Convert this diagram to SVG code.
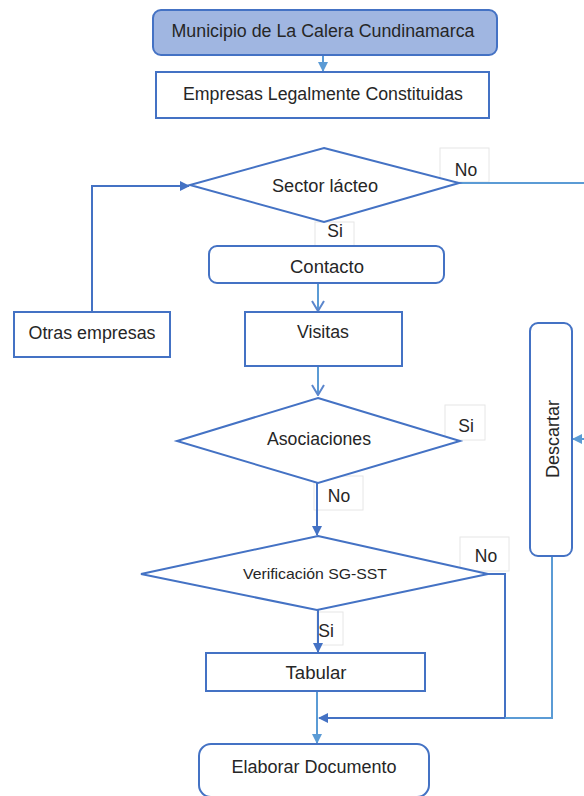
<svg xmlns="http://www.w3.org/2000/svg" width="584" height="796" viewBox="0 0 584 796">
<style>
.shape{fill:#fff;stroke:#4472c4;stroke-width:2}
.lbl{fill:#fff;stroke:#e6e6e6;stroke-width:1}
.t{font-family:"Liberation Sans",Arial,sans-serif;font-size:17.5px;fill:#262626;text-anchor:middle}
.c{fill:none;stroke:#4472c4;stroke-width:2}
.cl{fill:none;stroke:#5b9bd5;stroke-width:2}
</style>
<defs>
<marker id="af" markerWidth="10" markerHeight="10" refX="9" refY="5" orient="auto" markerUnits="userSpaceOnUse"><path d="M0,0 L10,5 L0,10 z" fill="#4472c4"/></marker>
<marker id="afl" markerWidth="10" markerHeight="10" refX="9" refY="5" orient="auto" markerUnits="userSpaceOnUse"><path d="M0,0 L10,5 L0,10 z" fill="#5b9bd5"/></marker>
<marker id="ao" markerWidth="12" markerHeight="14" refX="11" refY="7" orient="auto" markerUnits="userSpaceOnUse"><path d="M1,1 L11,7 L1,13" fill="none" stroke="#5b86cc" stroke-width="2"/></marker>
</defs>

<g id="labels">
<rect class="lbl" x="440" y="148" width="49" height="34"/>
<rect class="lbl" x="315" y="222" width="39" height="24"/>
<rect class="lbl" x="445" y="405" width="40" height="35"/>
<rect class="lbl" x="314" y="476" width="49" height="34"/>
<rect class="lbl" x="460" y="537" width="49" height="34"/>
<rect class="lbl" x="317" y="612" width="26" height="33"/>
</g>

<g id="connectors">
<path class="cl" d="M323,55 V71" marker-end="url(#afl)"/>
<path class="c" d="M92,313 V186 H189" marker-end="url(#af)"/>
<path class="cl" d="M459,183 H584"/>
<path class="cl" d="M318,283 V311" marker-end="url(#ao)"/>
<path class="cl" d="M318,366 V395" marker-end="url(#ao)"/>
<path class="c" d="M317,483 V535" marker-end="url(#af)"/>
<path class="c" d="M488,574 H505 V718"/>
<path class="cl" d="M552,556 V718 H319" marker-end="url(#af)"/>
<path class="c" d="M505,718 H320"/>
<path class="c" d="M318,610 V652" marker-end="url(#af)"/>
<path class="cl" d="M317,691 V743" marker-end="url(#afl)"/>
<path class="cl" d="M584,439 H573" marker-end="url(#afl)"/>
</g>

<g id="n-municipio">
<rect x="153" y="10" width="344" height="45" rx="8" fill="#a0b6e1" stroke="#4472c4" stroke-width="2"/>
<text class="t" x="323" y="37" textLength="303" lengthAdjust="spacingAndGlyphs" fill="#404040">Municipio de La Calera Cundinamarca</text>
</g>
<g id="n-empresas">
<rect class="shape" x="156" y="72" width="333" height="46"/>
<text class="t" x="323" y="100" textLength="280" lengthAdjust="spacingAndGlyphs">Empresas Legalmente Constituidas</text>
</g>
<g id="n-sector">
<path class="shape" d="M324,148 L459,183 L324,222 L190,185 Z"/>
<text class="t" x="325" y="192" textLength="106" lengthAdjust="spacingAndGlyphs">Sector lácteo</text>
</g>
<g id="n-contacto">
<rect class="shape" x="209" y="246" width="235" height="37" rx="8"/>
<text class="t" x="327" y="273" textLength="74" lengthAdjust="spacingAndGlyphs">Contacto</text>
</g>
<g id="n-otras">
<rect class="shape" x="14" y="312" width="156" height="45"/>
<text class="t" x="92" y="339" textLength="127" lengthAdjust="spacingAndGlyphs">Otras empresas</text>
</g>
<g id="n-visitas">
<rect class="shape" x="245" y="312" width="157" height="54"/>
<text class="t" x="323" y="338" textLength="52" lengthAdjust="spacingAndGlyphs">Visitas</text>
</g>
<g id="n-descartar">
<rect class="shape" x="530" y="323" width="42" height="233" rx="8"/>
<text class="t" transform="translate(559,439) rotate(-90)" x="0" y="0" textLength="78" lengthAdjust="spacingAndGlyphs">Descartar</text>
</g>
<g id="n-asociaciones">
<path class="shape" d="M318,398 L460,441 L318,483 L177,441 Z"/>
<text class="t" x="319" y="445" textLength="104" lengthAdjust="spacingAndGlyphs">Asociaciones</text>
</g>
<g id="n-verificacion">
<path class="shape" d="M318,536 L488,574 L317,610 L141,574 Z"/>
<text class="t" x="315" y="579" style="font-size:14.5px" textLength="144" lengthAdjust="spacingAndGlyphs">Verificación SG-SST</text>
</g>
<g id="n-tabular">
<rect class="shape" x="206" y="653" width="219" height="38"/>
<text class="t" x="316" y="679" textLength="61" lengthAdjust="spacingAndGlyphs">Tabular</text>
</g>
<g id="n-elaborar">
<rect class="shape" x="199" y="744" width="230" height="53" rx="12"/>
<text class="t" x="314" y="773" textLength="165" lengthAdjust="spacingAndGlyphs">Elaborar Documento</text>
</g>

<g id="label-text">
<text class="t" x="466" y="176">No</text>
<text class="t" x="335" y="237">Si</text>
<text class="t" x="466" y="432">Si</text>
<text class="t" x="339" y="502">No</text>
<text class="t" x="486" y="562">No</text>
<text class="t" x="326" y="637">Si</text>
</g>
</svg>
